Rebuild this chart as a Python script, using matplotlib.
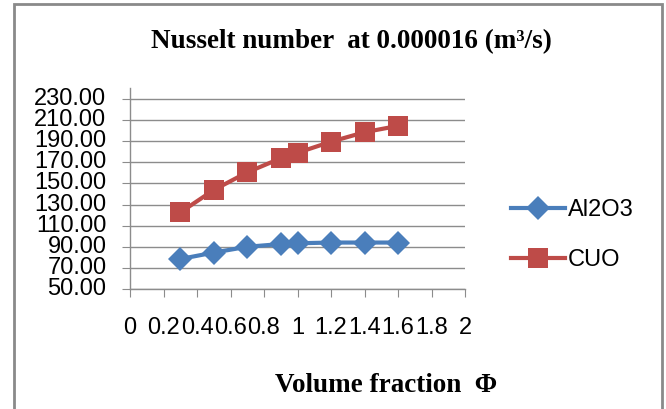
import numpy as np
import matplotlib
matplotlib.use("Agg")
import matplotlib.pyplot as plt
from matplotlib.patches import Rectangle

# data
phi = [0.3, 0.5, 0.7, 0.9, 1.0, 1.2, 1.4, 1.6]
nu_al2o3 = [78.4, 84.5, 90.0, 92.6, 93.3, 94.0, 94.0, 94.0]
nu_cuo = [122.5, 143.8, 160.5, 173.8, 179.0, 189.5, 198.5, 204.5]
x_ticks = [0, 0.2, 0.4, 0.6, 0.8, 1, 1.2, 1.4, 1.6, 1.8, 2]
x_ticklabels = ["0", "0.2", "0.4", "0.6", "0.8", "1", "1.2", "1.4", "1.6", "1.8", "2"]
y_ticks = [50, 70, 90, 110, 130, 150, 170, 190, 210, 230]

blue = "#4A7EBB"
red = "#BE4B48"
grid_col = "#8C8C8C"

fig = plt.figure(figsize=(6.66, 4.09), dpi=100)
ax = fig.add_axes([130/666, 1-289/409, 335/666, 200.6/409])

ax.plot(phi, nu_al2o3, color=blue, lw=3, marker="D", ms=12, mew=0, label="Al2O3")
ax.plot(phi, nu_cuo, color=red, lw=3, marker="s", ms=15, mew=0, label="CUO")

ax.set_xlim(0, 2)
ax.set_ylim(50, 240)
ax.set_xticks(x_ticks)
ax.set_xticklabels(x_ticklabels, family="Liberation Sans", fontsize=17)
ax.set_yticks(y_ticks)
ax.set_yticklabels(["%.2f" % v for v in y_ticks], family="Liberation Sans", fontsize=17)
ax.tick_params(axis="x", length=6, color=grid_col, pad=14)
ax.tick_params(axis="y", length=6, color=grid_col, pad=11)
for t in ax.get_yticklabels():
    t.set_verticalalignment("center")

ax.grid(True, axis="y", color=grid_col, lw=1)
ax.set_axisbelow(True)
for s in ["top", "right"]:
    ax.spines[s].set_visible(False)
for s in ["left", "bottom"]:
    ax.spines[s].set_color(grid_col)
    ax.spines[s].set_linewidth(1)

leg = fig.legend(loc="upper left", bbox_to_anchor=(511/666, 1-199/409),
                 frameon=False, prop={"family": "Liberation Sans", "size": 17},
                 handlelength=2.3, handletextpad=0.1, labelspacing=1.2,
                 borderaxespad=0, borderpad=0)

fig.text(351/666, 1-42/409, "Nusselt number  at 0.000016 (m\u00b3/s)",
         family="Liberation Serif", weight="bold", fontsize=19.5,
         ha="center", va="center")
fig.text(386/666, 1-386/409, "Volume fraction  \u03a6",
         family="Liberation Serif", weight="bold", fontsize=19.5,
         ha="center", va="center")

# outer chart border
fig.patches.append(Rectangle((14/666, -0.05), 648/666, 1.05 - 4/409,
                             transform=fig.transFigure, fill=False,
                             edgecolor="#8A8A8A", lw=2))

fig.savefig("out.png", dpi=100)
